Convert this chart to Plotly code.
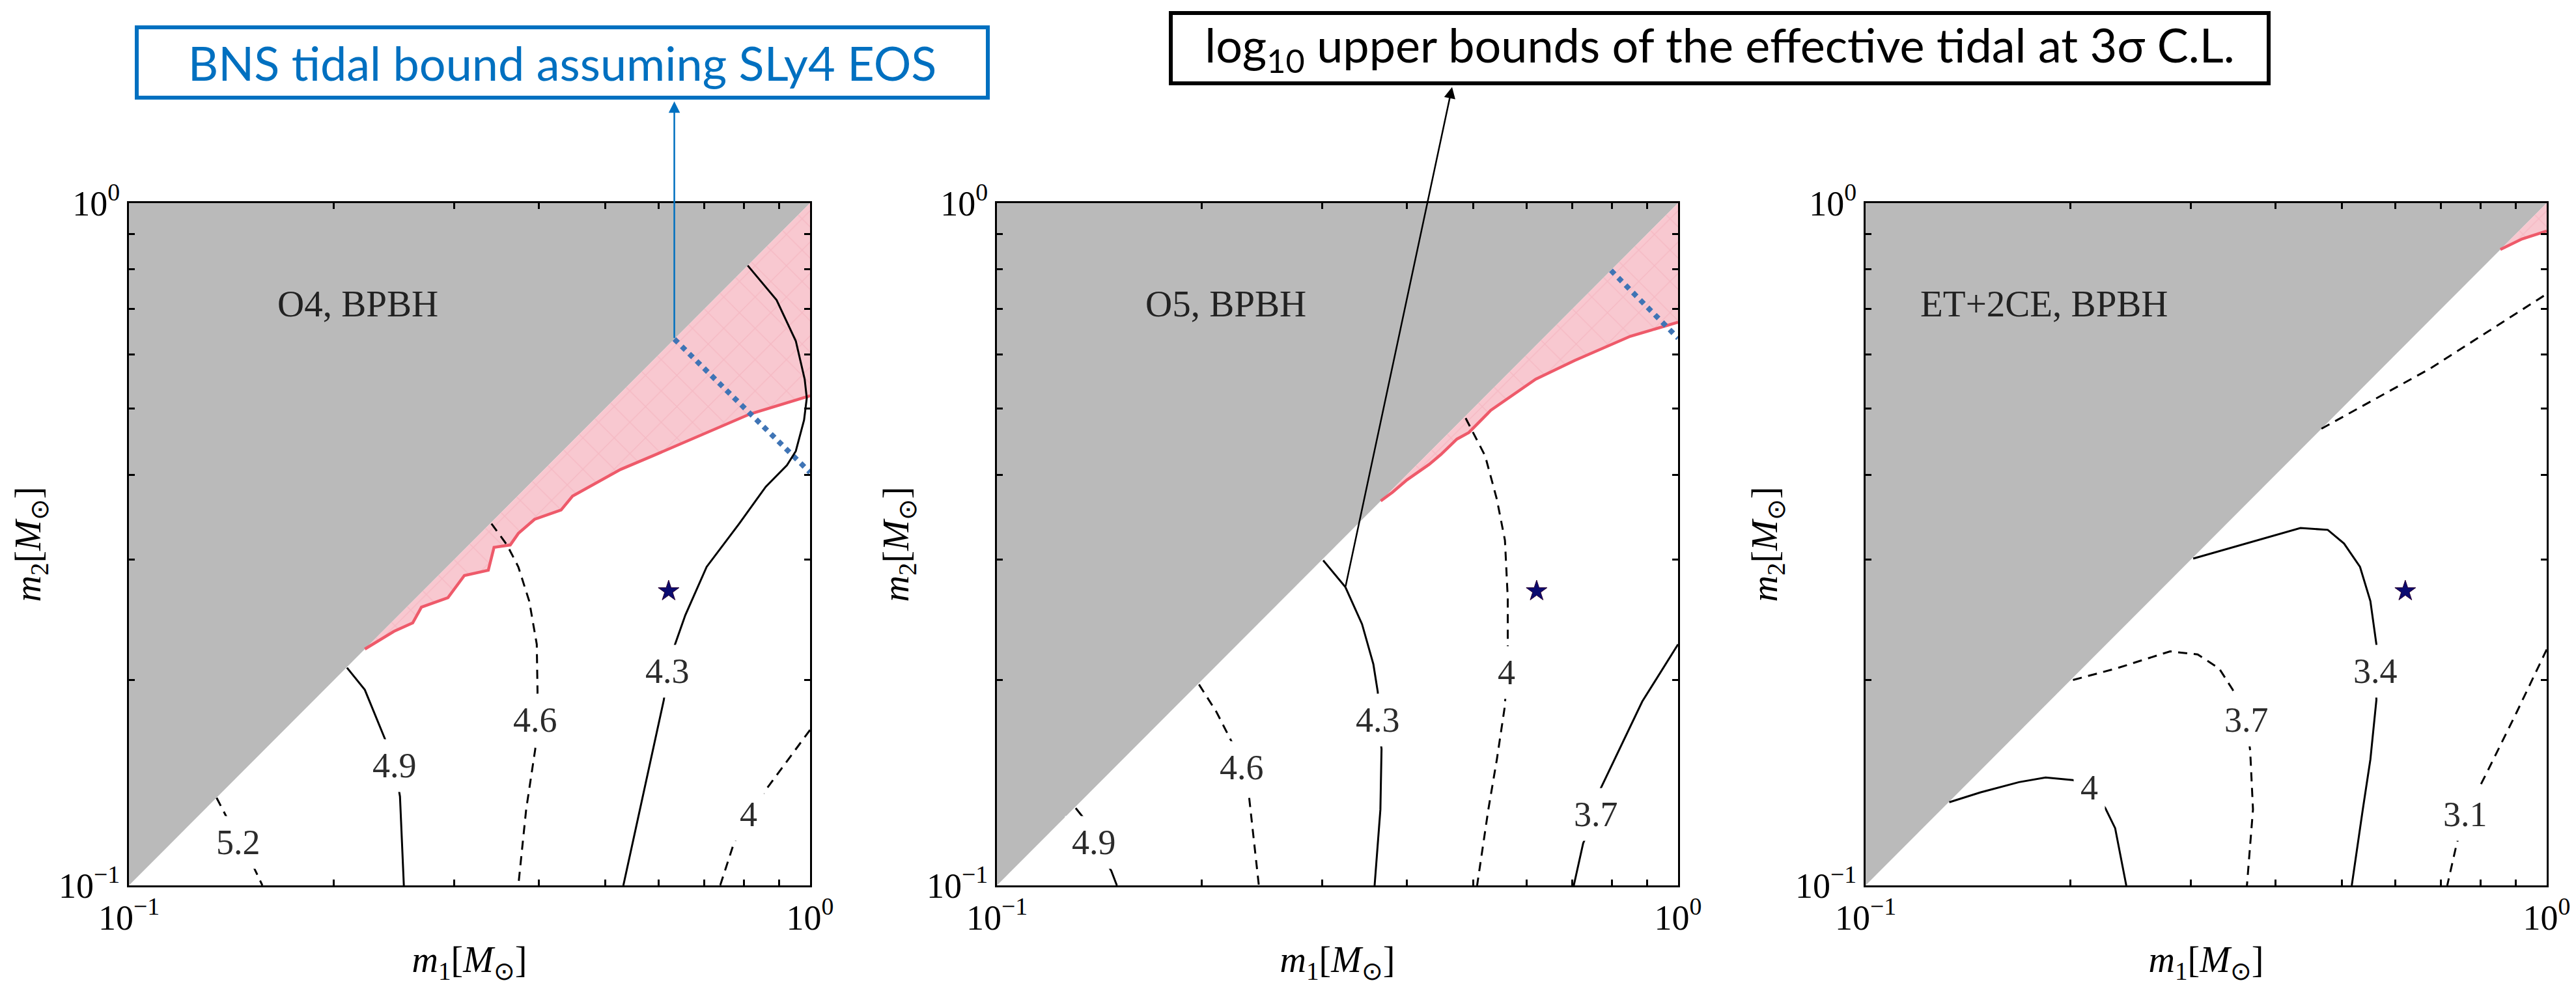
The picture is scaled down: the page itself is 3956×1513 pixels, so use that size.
import math
import plotly.graph_objects as go

# ---------------------------------------------------------------- data
# Mass axes (solar masses), log scale
tick_vals = [0.1, 1.0]
tick_text = ["10<sup>−1</sup>", "10<sup>0</sup>"]
minor_vals = [0.2, 0.3, 0.4, 0.5, 0.6, 0.7, 0.8, 0.9]

panel_names = ["O4, BPBH", "O5, BPBH", "ET+2CE, BPBH"]
name_m1 = [0.1643, 0.1643, 0.1197]
name_m2 = [0.712, 0.712, 0.712]

# Fiducial event
event_m1 = 0.62
event_m2 = 0.27

# Edge of the SLy4 BNS tidal-consistent region (red curve)
o4_sly4_m1 = [0.222, 0.245, 0.261, 0.2688, 0.294, 0.3108, 0.337, 0.3436, 0.363, 0.373,
              0.394, 0.431, 0.448, 0.527, 0.587, 0.817, 1.0]
o4_sly4_m2 = [0.222, 0.2357, 0.2425, 0.2557, 0.264, 0.2846, 0.2897, 0.313, 0.3155, 0.328,
              0.344, 0.355, 0.372, 0.407, 0.426, 0.491, 0.522]
o5_sly4_m1 = [0.366, 0.381, 0.400, 0.431, 0.4484, 0.4736, 0.493, 0.531, 0.618, 0.705, 0.851, 1.0]
o5_sly4_m2 = [0.366, 0.377, 0.393, 0.414, 0.428, 0.451, 0.461, 0.497, 0.552, 0.588, 0.638, 0.669]
et_sly4_m1 = [0.855, 0.92, 1.0]
et_sly4_m2 = [0.855, 0.886, 0.91]

# Constant chirp-mass cut of the BNS bound (blue dotted)
o4_mc_m1 = [0.632, 1.0]
o4_mc_m2 = [0.632, 0.403]
o5_mc_m1 = [0.797, 1.0]
o5_mc_m2 = [0.797, 0.634]

# log10 upper bounds of the effective tidal deformability (contours)
o4_levels = [5.2, 4.9, 4.6, 4.3, 4.0]
o4_c0_m1 = [0.1345, 0.1393, 0.1446, 0.1527, 0.157]
o4_c0_m2 = [0.1344, 0.1256, 0.1155, 0.106, 0.1]
o4_c1_m1 = [0.209, 0.222, 0.2388, 0.2457, 0.250, 0.2533]
o4_c1_m2 = [0.2085, 0.1935, 0.162, 0.1497, 0.135, 0.1]
o4_c2_m1 = [0.3406, 0.359, 0.373, 0.387, 0.397, 0.398, 0.395, 0.383, 0.373]
o4_c2_m2 = [0.339, 0.3155, 0.293, 0.261, 0.2256, 0.192, 0.1585, 0.1292, 0.1]
o4_c3_m1 = [0.81, 0.893, 0.953, 0.982, 0.989, 0.980, 0.953, 0.925, 0.861, 0.787, 0.705,
            0.656, 0.632, 0.618, 0.610, 0.577, 0.532]
o4_c3_m2 = [0.81, 0.721, 0.628, 0.552, 0.518, 0.481, 0.433, 0.413, 0.384, 0.339, 0.293,
            0.249, 0.224, 0.206, 0.187, 0.145, 0.1]
o4_c4_m1 = [1.0, 0.861, 0.8125, 0.773, 0.738]
o4_c4_m2 = [0.169, 0.138, 0.127, 0.1153, 0.1]
o4_label_m1 = [0.1446, 0.2457, 0.395, 0.618, 0.8125]
o4_label_m2 = [0.1155, 0.1497, 0.1746, 0.206, 0.127]

o5_levels = [4.9, 4.6, 4.3, 4.0, 3.7]
o5_c0_m1 = [0.1305, 0.134, 0.1387, 0.1472, 0.150]
o5_c0_m2 = [0.1298, 0.1256, 0.1155, 0.105, 0.1]
o5_c1_m1 = [0.198, 0.210, 0.2214, 0.2287, 0.2345, 0.2424]
o5_c1_m2 = [0.197, 0.1796, 0.162, 0.1487, 0.135, 0.1]
o5_c2_m1 = [0.3013, 0.3248, 0.3436, 0.357, 0.3624, 0.3624, 0.367, 0.3656, 0.3585]
o5_c2_m2 = [0.2995, 0.2736, 0.2415, 0.211, 0.192, 0.1746, 0.1585, 0.1292, 0.1]
o5_c3_m1 = [0.4877, 0.521, 0.542, 0.557, 0.5623, 0.5623, 0.560, 0.557, 0.542, 0.5266, 0.507]
o5_c3_m2 = [0.484, 0.426, 0.368, 0.3205, 0.264, 0.2154, 0.205, 0.1835, 0.153, 0.1292, 0.1]
o5_c4_m1 = [1.0, 0.886, 0.768, 0.7585, 0.7256, 0.703]
o5_c4_m2 = [0.2256, 0.186, 0.138, 0.127, 0.1153, 0.1]
o5_label_m1 = [0.1387, 0.2287, 0.3624, 0.560, 0.7585]
o5_label_m2 = [0.1155, 0.1487, 0.1746, 0.205, 0.127]

et_levels = [4.0, 3.7, 3.4, 3.1]
et_c0_m1 = [0.1327, 0.1476, 0.168, 0.1838, 0.2016, 0.213, 0.2249, 0.2325, 0.2414]
et_c0_m2 = [0.1324, 0.1369, 0.1417, 0.1439, 0.1427, 0.139, 0.1298, 0.1213, 0.1]
et_c1_m1 = [0.2016, 0.2335, 0.280, 0.3073, 0.3304, 0.346, 0.3624, 0.367, 0.3705, 0.363]
et_c1_m2 = [0.2, 0.208, 0.2203, 0.218, 0.208, 0.1935, 0.1746, 0.1575, 0.1292, 0.1]
et_c2_m1 = [0.3027, 0.3553, 0.435, 0.477, 0.504, 0.532, 0.551, 0.5623, 0.560, 0.5623,
            0.551, 0.537, 0.5174]
et_c2_m2 = [0.3013, 0.3155, 0.334, 0.332, 0.317, 0.293, 0.261, 0.2256, 0.206, 0.187,
            0.153, 0.1292, 0.1]
et_c3_m1 = [1.0, 0.904, 0.817, 0.760, 0.738, 0.7145]
et_c3_m2 = [0.2217, 0.1796, 0.1464, 0.127, 0.1153, 0.1]
et_c3b_m1 = [0.467, 0.674, 1.0]       # second branch of the 3.1 level
et_c3b_m2 = [0.467, 0.572, 0.736]
et_label_m1 = [0.213, 0.3624, 0.560, 0.760]
et_label_m2 = [0.139, 0.1746, 0.206, 0.127]

# Call-out texts
bns_note = "BNS tidal bound assuming SLy4 EOS"
tidal_note = "log<sub>10</sub> upper bounds of the effective tidal at 3σ C.L."

# ---------------------------------------------------------------- styling
W, H = 3956, 1513
PANEL_LEFT = [198, 1531, 2865]
PANEL_W = 1046
PANEL_TOP, PANEL_BOTTOM = 312, 1360

GRAY = "#BABABA"
PINK = "#F8C8D0"
RED = "#EE5A6A"
BLUE_DOT = "#3F74B5"
CALLOUT_BLUE = "#0070C0"
SERIF = "Liberation Serif"
SANS = "Lato"

panels = [
    dict(levels=o4_levels,
         lines=[(o4_c0_m1, o4_c0_m2), (o4_c1_m1, o4_c1_m2), (o4_c2_m1, o4_c2_m2),
                (o4_c3_m1, o4_c3_m2), (o4_c4_m1, o4_c4_m2)],
         dashed=[True, False, True, False, True],
         extra=[],
         label_m1=o4_label_m1, label_m2=o4_label_m2,
         sly4=(o4_sly4_m1, o4_sly4_m2), mc=(o4_mc_m1, o4_mc_m2)),
    dict(levels=o5_levels,
         lines=[(o5_c0_m1, o5_c0_m2), (o5_c1_m1, o5_c1_m2), (o5_c2_m1, o5_c2_m2),
                (o5_c3_m1, o5_c3_m2), (o5_c4_m1, o5_c4_m2)],
         dashed=[False, True, False, True, False],
         extra=[],
         label_m1=o5_label_m1, label_m2=o5_label_m2,
         sly4=(o5_sly4_m1, o5_sly4_m2), mc=(o5_mc_m1, o5_mc_m2)),
    dict(levels=et_levels,
         lines=[(et_c0_m1, et_c0_m2), (et_c1_m1, et_c1_m2), (et_c2_m1, et_c2_m2),
                (et_c3_m1, et_c3_m2)],
         dashed=[False, True, False, True],
         extra=[(et_c3b_m1, et_c3b_m2)],
         label_m1=et_label_m1, label_m2=et_label_m2,
         sly4=(et_sly4_m1, et_sly4_m2), mc=None),
]

fig = go.Figure()
annotations = []
DASH = "14px,10px"

for i, p in enumerate(panels):
    sfx = "" if i == 0 else str(i + 1)
    xa, ya = "x" + sfx, "y" + sfx

    # excluded m2 > m1 half-plane
    fig.add_trace(go.Scatter(x=[0.1, 1.0, 0.1, 0.1], y=[0.1, 1.0, 1.0, 0.1],
                             mode="lines", fill="toself", fillcolor=GRAY,
                             line=dict(width=0), xaxis=xa, yaxis=ya, hoverinfo="skip"))

    # SLy4-consistent wedge
    s1, s2 = p["sly4"]
    fig.add_trace(go.Scatter(x=s1 + [1.0, s1[0]], y=s2 + [1.0, s2[0]],
                             mode="lines", fill="toself", fillcolor=PINK,
                             fillpattern=dict(shape="x", bgcolor=PINK, fgcolor="#F1A9B6",
                                              size=34, solidity=0.08),
                             line=dict(width=0), xaxis=xa, yaxis=ya, hoverinfo="skip"))
    fig.add_trace(go.Scatter(x=s1, y=s2, mode="lines", line=dict(color=RED, width=4.5),
                             xaxis=xa, yaxis=ya, hoverinfo="skip"))

    if p["mc"] is not None:
        fig.add_trace(go.Scatter(x=p["mc"][0], y=p["mc"][1], mode="lines",
                                 line=dict(color=BLUE_DOT, width=8, dash="dot"),
                                 xaxis=xa, yaxis=ya, hoverinfo="skip"))

    for (m1, m2), dashed in zip(p["lines"], p["dashed"]):
        fig.add_trace(go.Scatter(x=m1, y=m2, mode="lines",
                                 line=dict(color="black", width=3,
                                           dash=DASH if dashed else "solid"),
                                 xaxis=xa, yaxis=ya, hoverinfo="skip"))
    for m1, m2 in p["extra"]:
        fig.add_trace(go.Scatter(x=m1, y=m2, mode="lines",
                                 line=dict(color="black", width=3, dash=DASH),
                                 xaxis=xa, yaxis=ya, hoverinfo="skip"))

    fig.add_trace(go.Scatter(x=[event_m1], y=[event_m2], mode="markers",
                             marker=dict(symbol="star", size=24, color="#0B0B70",
                                         line=dict(width=1, color="#2A0030")),
                             xaxis=xa, yaxis=ya, hoverinfo="skip"))

    # contour labels sit on the lines, masking them
    for lev, lx, ly in zip(p["levels"], p["label_m1"], p["label_m2"]):
        annotations.append(dict(xref=xa, yref=ya, x=math.log10(lx), y=math.log10(ly),
                                text=f"{lev:g}", showarrow=False, bgcolor="white",
                                borderpad=10, xanchor="center", yanchor="middle",
                                font=dict(family=SERIF, size=54, color="#2b2b2b")))

    annotations.append(dict(xref=xa, yref=ya, x=math.log10(name_m1[i]),
                            y=math.log10(name_m2[i]), text=panel_names[i],
                            showarrow=False, xanchor="left", yanchor="middle",
                            font=dict(family=SERIF, size=57, color="#222222")))

# ---------------------------------------------------------------- axes
layout_axes = {}
for i in range(3):
    sfx = "" if i == 0 else str(i + 1)
    x0 = PANEL_LEFT[i] / W
    x1 = (PANEL_LEFT[i] + PANEL_W) / W
    common = dict(type="log", range=[-1, 0], showgrid=False, zeroline=False,
                  automargin=False,
                  showline=True, linecolor="black", linewidth=3, mirror="ticks",
                  ticks="inside", ticklen=13, tickwidth=3, tickcolor="black",
                  tickvals=tick_vals, ticktext=tick_text,
                  tickfont=dict(family=SERIF, size=54, color="black"),
                  minor=dict(tickvals=minor_vals, ticks="inside", ticklen=9,
                             tickwidth=3, tickcolor="black", showgrid=False))
    layout_axes["xaxis" + sfx] = dict(
        common, domain=[x0, x1], anchor="y" + sfx,
        title=dict(text="<i>m</i><sub>1</sub>[<i>M</i><sub>⊙</sub>]",
                   font=dict(family=SERIF, size=56, color="black"), standoff=42))
    layout_axes["yaxis" + sfx] = dict(
        common, domain=[1 - PANEL_BOTTOM / H, 1 - PANEL_TOP / H], anchor="x" + sfx,
        title=dict(text="<i>m</i><sub>2</sub>[<i>M</i><sub>⊙</sub>]",
                   font=dict(family=SERIF, size=56, color="black"), standoff=10))

# ---------------------------------------------------------------- call-outs
annotations.append(dict(xref="paper", yref="paper", x=863.5 / W, y=1 - 96 / H,
                        xanchor="center", yanchor="middle", text=bns_note,
                        showarrow=False, width=1301, height=102, borderpad=0,
                        borderwidth=6, bordercolor=CALLOUT_BLUE, bgcolor="white",
                        font=dict(family=SANS, size=72, color=CALLOUT_BLUE)))
annotations.append(dict(xref="paper", yref="paper", x=2641 / W, y=1 - 74 / H,
                        xanchor="center", yanchor="middle", text=tidal_note,
                        showarrow=False, width=1680, height=102, borderpad=0,
                        borderwidth=6, bordercolor="black", bgcolor="white",
                        font=dict(family=SANS, size=72, color="black")))

# arrow from the chirp-mass cut up to its call-out box (panel 1 data coords)
box1_bottom = (PANEL_TOP - 156) / PANEL_W
annotations.append(dict(xref="x", yref="y", x=math.log10(o4_mc_m1[0]), y=box1_bottom,
                        axref="x", ayref="y", ax=math.log10(o4_mc_m1[0]),
                        ay=math.log10(o4_mc_m2[0]), text="", showarrow=True,
                        arrowhead=2, arrowsize=1.4, arrowwidth=2.5,
                        arrowcolor=CALLOUT_BLUE))
# arrow from the O5 4.3 contour up to the second call-out (panel 2 data coords)
box2_x = -1 + (2230 - PANEL_LEFT[1]) / PANEL_W
box2_bottom = (PANEL_TOP - 134) / PANEL_W
annotations.append(dict(xref="x2", yref="y2", x=box2_x, y=box2_bottom,
                        axref="x2", ayref="y2", ax=math.log10(o5_c2_m1[1]),
                        ay=math.log10(o5_c2_m2[1]), text="", showarrow=True,
                        arrowhead=2, arrowsize=1.4, arrowwidth=2.5,
                        arrowcolor="black"))

fig.update_layout(width=W, height=H,
                  margin=dict(l=0, r=0, t=0, b=0, autoexpand=False),
                  paper_bgcolor="white", plot_bgcolor="white", showlegend=False,
                  annotations=annotations, **layout_axes)

fig.write_html("out.html")
